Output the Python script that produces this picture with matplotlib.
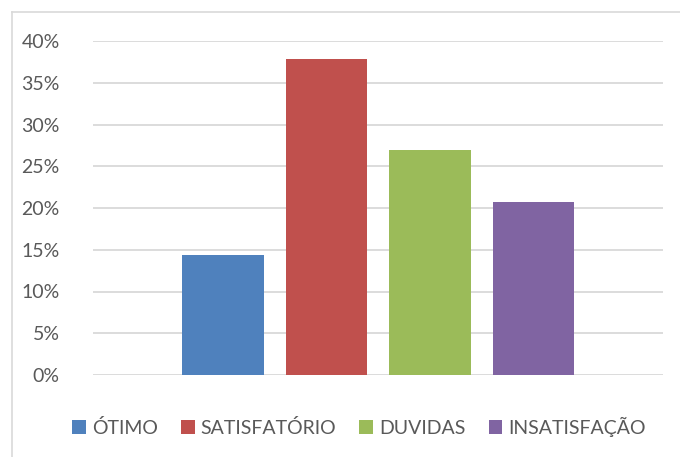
import matplotlib
matplotlib.use("Agg")
import matplotlib.pyplot as plt
from matplotlib.patches import Patch
from matplotlib.lines import Line2D

categories = ["ÓTIMO", "SATISFATÓRIO", "DUVIDAS", "INSATISFAÇÃO"]
values = [0.144, 0.379, 0.270, 0.207]
colors = ["#4F81BD", "#C0504D", "#9BBB59", "#8064A2"]
yticks = [0, 0.05, 0.10, 0.15, 0.20, 0.25, 0.30, 0.35, 0.40]
ytick_labels = ["0%", "5%", "10%", "15%", "20%", "25%", "30%", "35%", "40%"]

W, H = 680, 457
plt.rcParams['font.family'] = ['Lato', 'DejaVu Sans']
fig = plt.figure(figsize=(W / 100, H / 100), dpi=100)

# chart border (left/top visible)
fig.add_artist(Line2D([12 / W, 12 / W], [0, 1 - 12 / H], transform=fig.transFigure,
                      color="#d9d9d9", lw=1.2))
fig.add_artist(Line2D([12 / W, 1], [1 - 12 / H, 1 - 12 / H], transform=fig.transFigure,
                      color="#d9d9d9", lw=1.2))

ax = fig.add_axes([93 / W, (H - 375) / H, (663 - 93) / W, (375 - 41) / H])
x = list(range(len(values)))
ax.bar(x, values, width=0.79, color=colors, zorder=3)
ax.set_xlim(-1.256, 4.251)
ax.set_ylim(0, 0.40)
ax.set_yticks(yticks)
ax.set_yticklabels(ytick_labels)
ax.set_xticks([])
for s in ax.spines.values():
    s.set_visible(False)
ax.yaxis.grid(True, color="#d9d9d9", lw=1.3, zorder=0)
ax.tick_params(axis='y', length=0, pad=24, labelsize=14, labelcolor="#595959")

handles = [Patch(facecolor=c, edgecolor='none') for c in colors]
fig.legend(handles, categories, loc='center', bbox_to_anchor=(359 / W, 1 - 427 / H),
           ncol=4, frameon=False, fontsize=14, labelcolor="#595959",
           handlelength=0.7, handleheight=0.7, handletextpad=0.3, columnspacing=1.2)

fig.savefig("out.png", dpi=100, facecolor="white")
